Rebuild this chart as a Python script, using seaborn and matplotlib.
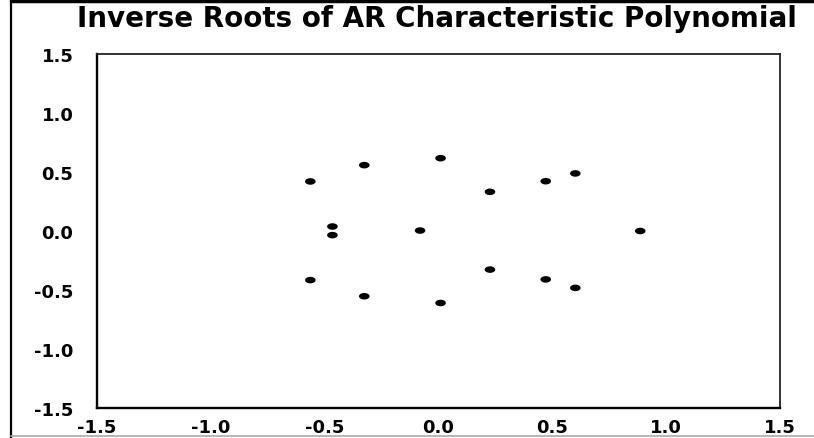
import numpy as np
import pandas as pd
import seaborn as sns
import matplotlib.pyplot as plt
from matplotlib.lines import Line2D
from matplotlib.path import Path

# inverse roots (real, imaginary)
root_real = [-0.563, -0.563, -0.326, -0.326, 0.009, 0.009, 0.226, 0.226,
             0.471, 0.471, 0.601, 0.601, -0.466, -0.466, -0.081, 0.886]
root_imag = [0.420, -0.416, 0.558, -0.553, 0.617, -0.610, 0.332, -0.327,
             0.422, -0.410, 0.488, -0.482, 0.038, -0.035, 0.004, 0.000]
tick_vals = [-1.5, -1.0, -0.5, 0.0, 0.5, 1.0, 1.5]
tick_labels = ["-1.5", "-1.0", "-0.5", "0.0", "0.5", "1.0", "1.5"]
title = "Inverse Roots of AR Characteristic Polynomial"

df = pd.DataFrame({"Real": root_real, "Imaginary": root_imag})

sns.set_style("white")
plt.rcParams["font.family"] = ["DejaVu Sans"]

fig = plt.figure(figsize=(8.14, 4.39), dpi=100)
ax = fig.add_axes([97 / 814, 1 - 409 / 439, 683 / 814, 354 / 439])

# flattened dot, like the scanned markers
t = np.linspace(0, 2 * np.pi, 41)
dot = Path(np.column_stack([np.cos(t), 0.62 * np.sin(t)]))

sns.scatterplot(data=df, x="Real", y="Imaginary", ax=ax, marker=dot,
                s=58, color="black", edgecolor="none", legend=False)

ax.set_xlim(-1.5, 1.5)
ax.set_ylim(-1.5, 1.5)
ax.set_xticks(tick_vals)
ax.set_xticklabels(tick_labels, fontweight="bold")
ax.set_yticks(tick_vals)
ax.set_yticklabels(tick_labels, fontweight="bold")
ax.set_xlabel("")
ax.set_ylabel("")
ax.tick_params(axis="y", length=10, width=1.0, pad=7, labelsize=13, color="#222222",
               labelcolor="black")
ax.tick_params(axis="x", length=5, width=1.0, pad=2, labelsize=13, color="#222222",
               labelcolor="black")
for side in ["left", "bottom"]:
    ax.spines[side].set_linewidth(1.7)
    ax.spines[side].set_color("black")
for side in ["top", "right"]:
    ax.spines[side].set_linewidth(1.3)
    ax.spines[side].set_color("#222222")

fig.text(437 / 814, 1 - 19 / 439, title, ha="center", va="center",
         fontsize=20, fontweight="bold", color="black")

# page frame from the screenshot
fig.add_artist(Line2D([11 / 814, 11 / 814], [0, 1], color="black", lw=1.6))
fig.add_artist(Line2D([11 / 814, 1], [1 - 1.5 / 439, 1 - 1.5 / 439], color="black", lw=2.5))
fig.add_artist(Line2D([11 / 814, 1], [2 / 439, 2 / 439], color="#aaaaaa", lw=1.2))

fig.savefig("out.png", dpi=100)
